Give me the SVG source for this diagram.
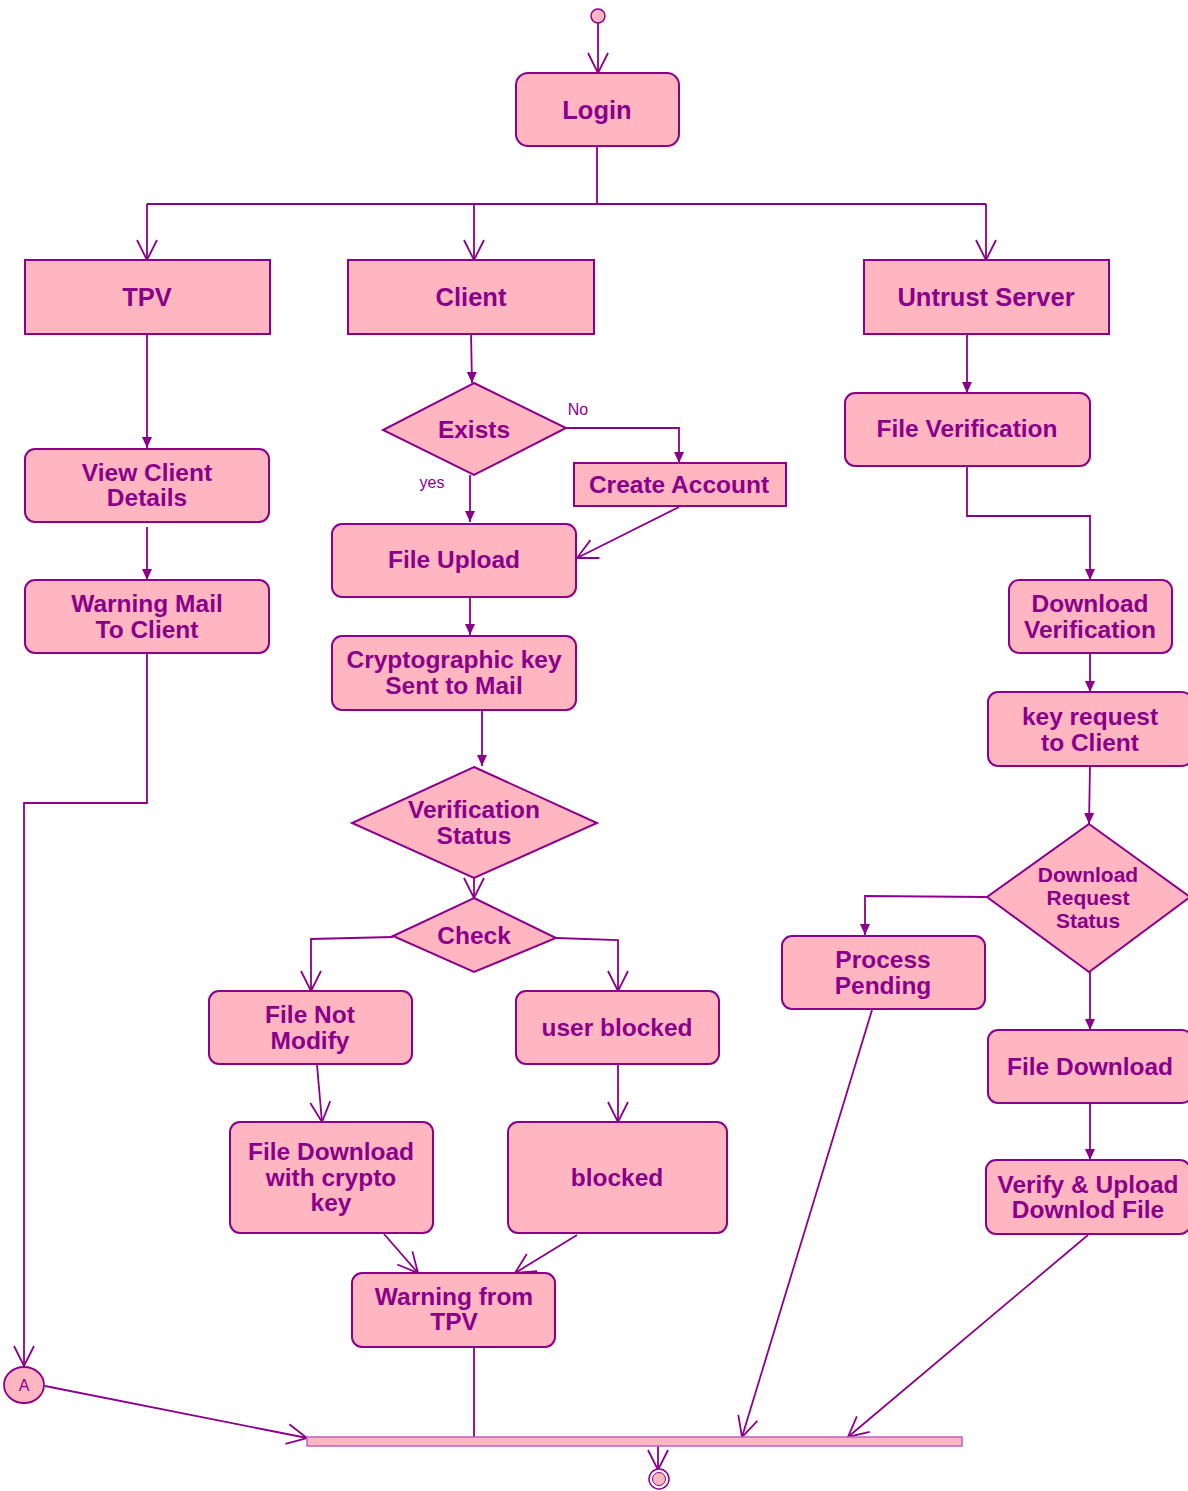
<svg xmlns="http://www.w3.org/2000/svg" width="1188" height="1491" viewBox="0 0 1188 1491">
  <style>
    .box { fill: #FFB6C1; stroke: #8B008B; stroke-width: 2; }
    .t { font-family: "Liberation Sans", Arial, sans-serif; font-weight: bold; font-size: 24.5px; fill: #8B008B; text-anchor: middle; }
    .big { font-size: 25.5px; }
    .sm { font-size: 21px; }
    .lbl { font-family: "Liberation Sans", Arial, sans-serif; font-size: 16px; fill: #8B008B; text-anchor: middle; }
    .e { fill: none; stroke: #8B008B; stroke-width: 1.8; }
    .o { marker-end: url(#open); }
    .f { marker-end: url(#fill); }
  </style>
  <defs>
    <marker id="open" markerUnits="userSpaceOnUse" markerWidth="24" markerHeight="24" refX="21" refY="11" orient="auto">
      <path d="M1,1 L21,11 L1,21" fill="none" stroke="#8B008B" stroke-width="1.8"/>
    </marker>
    <marker id="fill" markerUnits="userSpaceOnUse" markerWidth="12" markerHeight="12" refX="11" refY="6" orient="auto">
      <path d="M0,1 L11,6 L0,11 Z" fill="#8B008B"/>
    </marker>
  </defs>

  <!-- connectors -->
  <g id="connectors">
    <path class="e o" d="M598,23 L598,73"/>
    <path class="e" d="M597,146 L597,204 M147,204 L986,204"/>
    <path class="e o" d="M147,204 L147,260"/>
    <path class="e o" d="M474,204 L474,260"/>
    <path class="e o" d="M986,204 L986,260"/>

    <path class="e f" d="M147,334 L147,448"/>
    <path class="e f" d="M147,527 L147,580"/>
    <path class="e o" d="M147,653 L147,803 L24,803 L24,1366"/>
    <path class="e o" d="M45,1386 L307,1438"/>

    <path class="e f" d="M471,334 L472,383"/>
    <path class="e f" d="M566,428 L679,428 L679,463"/>
    <path class="e f" d="M470,475 L470,522"/>
    <path class="e o" d="M679,507 L577,558"/>
    <path class="e f" d="M470,597 L470,635"/>
    <path class="e f" d="M482,710 L482,766"/>
    <path class="e o" d="M474,878 L474,898"/>
    <path class="e o" d="M393,937 L311,939 L311,991"/>
    <path class="e o" d="M556,938 L618,940 L618,991"/>
    <path class="e o" d="M317,1065 L322,1122"/>
    <path class="e o" d="M618,1065 L618,1122"/>
    <path class="e o" d="M384,1234 L418,1273"/>
    <path class="e o" d="M577,1235 L515,1273"/>
    <path class="e" d="M474,1347 L474,1437"/>

    <path class="e f" d="M967,334 L967,393"/>
    <path class="e f" d="M967,466 L967,516 L1090,516 L1090,580"/>
    <path class="e f" d="M1090,653 L1090,692"/>
    <path class="e f" d="M1090,766 L1089,824"/>
    <path class="e f" d="M987,897 L865,896 L865,935"/>
    <path class="e o" d="M872,1010 L742,1437"/>
    <path class="e f" d="M1090,972 L1090,1030"/>
    <path class="e f" d="M1090,1103 L1090,1160"/>
    <path class="e o" d="M1088,1235 L848,1437"/>

    <path class="e o" d="M658,1446 L658,1470"/>
  </g>

  <!-- guard labels -->
  <text class="lbl" x="578" y="415">No</text>
  <text class="lbl" x="432" y="488">yes</text>

  <!-- start -->
  <g id="start">
    <circle cx="598" cy="16" r="7" fill="#FFB6C1" stroke="#8B008B" stroke-width="1.5"/>
  </g>

  <g id="login">
    <rect class="box" x="516" y="73" width="163" height="73" rx="12"/>
    <text class="t big" x="597" y="119">Login</text>
  </g>

  <g id="tpv">
    <rect class="box" x="25" y="260" width="245" height="74"/>
    <text class="t big" x="147" y="306">TPV</text>
  </g>
  <g id="client">
    <rect class="box" x="348" y="260" width="246" height="74"/>
    <text class="t big" x="471" y="306">Client</text>
  </g>
  <g id="untrust-server">
    <rect class="box" x="864" y="260" width="245" height="74"/>
    <text class="t big" x="986" y="306">Untrust Server</text>
  </g>

  <g id="view-client-details">
    <rect class="box" x="25" y="449" width="244" height="73" rx="10"/>
    <text class="t" x="147" y="481">View Client</text>
    <text class="t" x="147" y="506">Details</text>
  </g>
  <g id="warning-mail">
    <rect class="box" x="25" y="580" width="244" height="73" rx="10"/>
    <text class="t" x="147" y="612">Warning Mail</text>
    <text class="t" x="147" y="638">To Client</text>
  </g>

  <g id="connector-a">
    <ellipse cx="24" cy="1385" rx="20" ry="18" fill="#FFB6C1" stroke="#8B008B" stroke-width="1.8"/>
    <text class="lbl" x="24" y="1391">A</text>
  </g>

  <g id="exists">
    <polygon class="box" points="474,383 566,428 474,475 383,430"/>
    <text class="t" x="474" y="438">Exists</text>
  </g>
  <g id="create-account">
    <rect class="box" x="574" y="463" width="212" height="43"/>
    <text class="t" x="679" y="493">Create Account</text>
  </g>
  <g id="file-upload">
    <rect class="box" x="332" y="524" width="244" height="73" rx="10"/>
    <text class="t" x="454" y="568">File Upload</text>
  </g>
  <g id="crypto-key-mail">
    <rect class="box" x="332" y="636" width="244" height="74" rx="10"/>
    <text class="t" x="454" y="668">Cryptographic key</text>
    <text class="t" x="454" y="694">Sent to Mail</text>
  </g>
  <g id="verification-status">
    <polygon class="box" points="474,767 597,823 474,878 352,823"/>
    <text class="t" x="474" y="818">Verification</text>
    <text class="t" x="474" y="844">Status</text>
  </g>
  <g id="check">
    <polygon class="box" points="474,898 556,938 474,972 393,936"/>
    <text class="t" x="474" y="944">Check</text>
  </g>
  <g id="file-not-modify">
    <rect class="box" x="209" y="991" width="203" height="73" rx="10"/>
    <text class="t" x="310" y="1023">File Not</text>
    <text class="t" x="310" y="1049">Modify</text>
  </g>
  <g id="user-blocked">
    <rect class="box" x="516" y="991" width="203" height="73" rx="10"/>
    <text class="t" x="617" y="1036">user blocked</text>
  </g>
  <g id="file-download-crypto">
    <rect class="box" x="230" y="1122" width="203" height="111" rx="10"/>
    <text class="t" x="331" y="1160">File Download</text>
    <text class="t" x="331" y="1186">with crypto</text>
    <text class="t" x="331" y="1211">key</text>
  </g>
  <g id="blocked">
    <rect class="box" x="508" y="1122" width="219" height="111" rx="10"/>
    <text class="t" x="617" y="1186">blocked</text>
  </g>
  <g id="warning-from-tpv">
    <rect class="box" x="352" y="1273" width="203" height="74" rx="10"/>
    <text class="t" x="454" y="1305">Warning from</text>
    <text class="t" x="454" y="1330">TPV</text>
  </g>

  <g id="file-verification">
    <rect class="box" x="845" y="393" width="245" height="73" rx="10"/>
    <text class="t" x="967" y="437">File Verification</text>
  </g>
  <g id="download-verification">
    <rect class="box" x="1009" y="580" width="163" height="73" rx="10"/>
    <text class="t" x="1090" y="612">Download</text>
    <text class="t" x="1090" y="638">Verification</text>
  </g>
  <g id="key-request">
    <rect class="box" x="988" y="692" width="204" height="74" rx="10"/>
    <text class="t" x="1090" y="725">key request</text>
    <text class="t" x="1090" y="751">to Client</text>
  </g>
  <g id="download-request-status">
    <polygon class="box" points="1089,824 1190,897 1089,972 987,897"/>
    <text class="t sm" x="1088" y="882">Download</text>
    <text class="t sm" x="1088" y="905">Request</text>
    <text class="t sm" x="1088" y="928">Status</text>
  </g>
  <g id="process-pending">
    <rect class="box" x="782" y="936" width="203" height="73" rx="10"/>
    <text class="t" x="883" y="968">Process</text>
    <text class="t" x="883" y="994">Pending</text>
  </g>
  <g id="file-download">
    <rect class="box" x="988" y="1030" width="204" height="73" rx="10"/>
    <text class="t" x="1090" y="1075">File Download</text>
  </g>
  <g id="verify-upload">
    <rect class="box" x="986" y="1160" width="204" height="74" rx="10"/>
    <text class="t" x="1088" y="1193">Verify &amp; Upload</text>
    <text class="t" x="1088" y="1218">Downlod File</text>
  </g>

  <g id="join-bar">
    <rect x="307" y="1437" width="655" height="9" fill="#FFB6C1" stroke="#C060C0" stroke-width="1.5"/>
  </g>
  <g id="end">
    <circle cx="659" cy="1479" r="10" fill="#fff" stroke="#8B008B" stroke-width="1.5"/>
    <circle cx="659" cy="1479" r="6.5" fill="#FFB6C1" stroke="#8B008B" stroke-width="1"/>
  </g>
</svg>
